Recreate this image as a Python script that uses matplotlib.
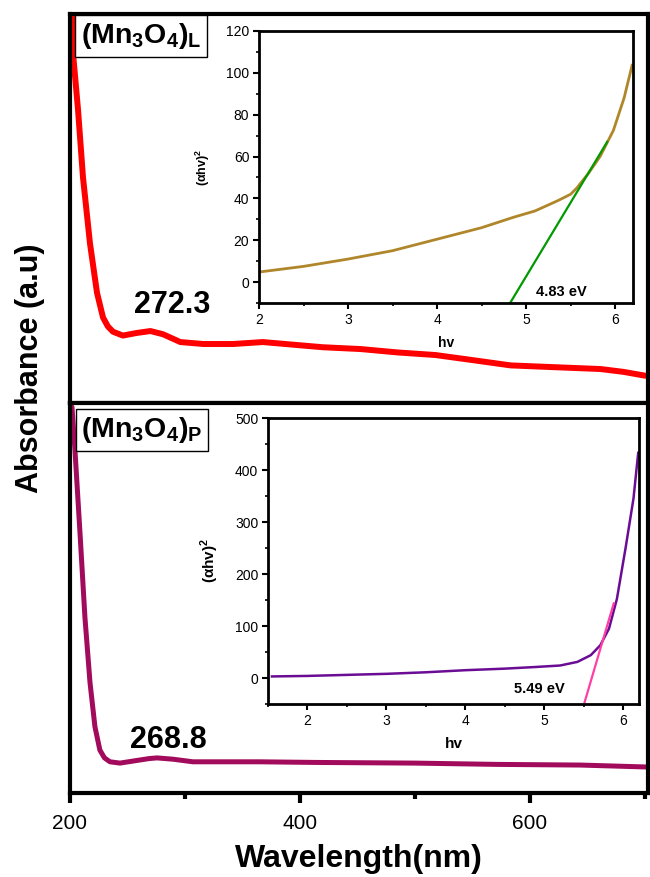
import numpy as np
import matplotlib
matplotlib.use("Agg")
import matplotlib.pyplot as plt
from matplotlib.ticker import MultipleLocator

plt.rcParams['font.family'] = ['Liberation Sans', 'DejaVu Sans']
plt.rcParams['mathtext.fontset'] = 'custom'
plt.rcParams['mathtext.rm'] = 'Liberation Sans'
plt.rcParams['mathtext.bf'] = 'Liberation Sans:bold'

# UV-vis spectrum, (Mn3O4)L
wl_L = [201.7, 202.6, 207, 211.3, 217.4, 223.5, 228.7, 233, 237.4, 246, 258, 270, 281, 296,
        316, 342, 367.8, 420, 453, 485, 518, 551, 583.5, 616.5, 661.7, 681.7, 700.9]
abs_L = [3.05, 2.70, 2.26, 1.74, 1.23, 0.85, 0.66, 0.59, 0.55, 0.52, 0.54, 0.555, 0.53, 0.47,
         0.455, 0.455, 0.47, 0.43, 0.416, 0.39, 0.37, 0.33, 0.29, 0.278, 0.262, 0.24, 0.21]

# UV-vis spectrum, (Mn3O4)P
wl_P = [201.7, 204.3, 208.7, 213, 217.4, 221.7, 226, 230, 234.8, 243.5, 258, 269, 275.7, 289.6,
        307, 336.5, 365, 415, 500, 572, 644, 702]
abs_P = [2.97, 2.64, 2.0, 1.35, 0.85, 0.51, 0.33, 0.27, 0.24, 0.23, 0.25, 0.265, 0.27, 0.26,
         0.24, 0.24, 0.24, 0.235, 0.23, 0.22, 0.215, 0.20]

# Tauc plots
hv_L = [2.0, 2.5, 3.0, 3.5, 4.0, 4.5, 4.86, 5.1, 5.36, 5.5, 5.57, 5.7, 5.83, 5.98, 6.1, 6.19]
tauc_L = [4.8, 7.5, 11, 15, 20.5, 26, 31, 34, 39, 42, 45, 52, 60, 72.5, 88, 103.6]
fit_hv_L = [4.82, 5.91]
fit_L = [-10, 67]

hv_P = [1.55, 2.0, 2.5, 3.0, 3.5, 4.0, 4.5, 4.87, 5.2, 5.42, 5.59, 5.71, 5.82, 5.92, 6.03, 6.13, 6.19]
tauc_P = [3, 4, 6, 8, 11, 15, 18, 21, 24, 31, 44, 63, 95, 152, 250, 345, 433]
fit_hv_P = [5.51, 5.88]
fit_P = [-47, 143.5]

W, H = 650, 877
fig = plt.figure(figsize=(W / 100, H / 100), dpi=100)


def fx(px):
    return px / W


def fy(py):
    return 1 - py / H


ax_top = fig.add_axes([fx(70), fy(403), fx(648) - fx(70), fy(14) - fy(403)])
ax_bot = fig.add_axes([fx(70), fy(793), fx(648) - fx(70), fy(403) - fy(793)])

for ax in (ax_top, ax_bot):
    ax.set_xlim(200, 703)
    ax.set_ylim(0, 3)
    ax.set_yticks([])
    for s in ax.spines.values():
        s.set_linewidth(3)

ax_top.plot(wl_L, abs_L, color='#ff0000', lw=4.3, solid_capstyle='round')
ax_top.set_xticks([])
ax_bot.plot(wl_P, abs_P, color='#a20a5c', lw=3.6, solid_capstyle='round')
ax_bot.set_xticks([200, 400, 600])
ax_bot.xaxis.set_minor_locator(MultipleLocator(100))
ax_bot.tick_params(axis='x', which='major', direction='out', length=7, width=3,
                   labelsize=15, pad=8)
ax_bot.tick_params(axis='x', which='minor', direction='out', length=4, width=3)
ax_bot.set_xlabel('Wavelength(nm)', fontsize=23, fontweight='bold', labelpad=8)
fig.text(fx(30), fy(368), 'Absorbance (a.u)', rotation=90, fontsize=22,
         fontweight='bold', ha='center', va='center')

box = dict(boxstyle='square,pad=0.2', facecolor='white', edgecolor='black', lw=1)
fig.text(fx(141), fy(36), r'$\mathbf{(Mn_3O_4)_L}$', fontsize=20.5, ha='center',
         va='center', bbox=box)
fig.text(fx(142), fy(430), r'$\mathbf{(Mn_3O_4)_P}$', fontsize=20.5, ha='center',
         va='center', bbox=box)
fig.text(fx(172), fy(305), '272.3', fontsize=22, fontweight='bold', ha='center', va='center')
fig.text(fx(168), fy(740), '268.8', fontsize=22, fontweight='bold', ha='center', va='center')

# inset 1
in1 = fig.add_axes([fx(259), fy(303), fx(633) - fx(259), fy(31) - fy(303)])
in1.plot(hv_L, tauc_L, color='#b0862a', lw=2)
in1.plot(fit_hv_L, fit_L, color='#009a00', lw=1.6)
in1.set_xlim(2, 6.2)
in1.set_ylim(-10, 120)
in1.set_xticks([2, 3, 4, 5, 6])
in1.set_yticks(range(0, 121, 20))
in1.xaxis.set_minor_locator(MultipleLocator(0.5))
in1.yaxis.set_minor_locator(MultipleLocator(10))
in1.text(5.4, -4.7, '4.83 eV', fontsize=10.5, fontweight='bold', ha='center', va='center')
in1.set_xlabel('hv', fontsize=10, fontweight='bold', labelpad=7)
in1.set_ylabel('(αhv)$^\\mathbf{2}$', fontsize=9, fontweight='bold', labelpad=10)

# inset 2
in2 = fig.add_axes([fx(268), fy(704), fx(639) - fx(268), fy(418) - fy(704)])
in2.plot(hv_P, tauc_P, color='#6a0d94', lw=1.8)
in2.plot(fit_hv_P, fit_P, color='#ff3fa6', lw=1.6)
in2.set_xlim(1.5, 6.2)
in2.set_ylim(-50, 500)
in2.set_xticks([2, 3, 4, 5, 6])
in2.set_yticks(range(0, 501, 100))
in2.xaxis.set_minor_locator(MultipleLocator(0.5))
in2.yaxis.set_minor_locator(MultipleLocator(50))
in2.text(4.94, -22, '5.49 eV', fontsize=10.5, fontweight='bold', ha='center', va='center')
in2.set_xlabel('hv', fontsize=11, fontweight='bold', labelpad=7)
in2.set_ylabel('(αhv)$^\\mathbf{2}$', fontsize=11, fontweight='bold', labelpad=10)

for ax in (in1, in2):
    for s in ax.spines.values():
        s.set_linewidth(2)
    ax.tick_params(which='major', direction='out', length=4, width=1.5, labelsize=10, pad=3)
    ax.tick_params(which='minor', direction='out', length=2, width=1.2)

fig.savefig('out.png', dpi=100)
